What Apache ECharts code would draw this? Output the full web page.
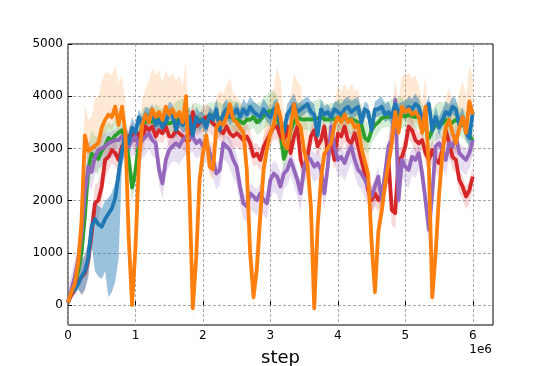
<!DOCTYPE html>
<html>
<head>
<meta charset="utf-8">
<script src="https://cdn.jsdelivr.net/npm/echarts@6/dist/echarts.min.js"></script>
<style>
  html, body { margin: 0; padding: 0; background: #fff; }
  #main { width: 548px; height: 366px; }
</style>
</head>
<body>
<div id="main"></div>
<script>
// step values, one every 50k steps from 0 to 6e6
const orange = [50,250,400,800,1600,3250,2950,3000,3050,3100,3400,3550,3650,3600,3800,3450,3800,3300,1300,0,
  1100,2700,3450,3650,3500,3750,3600,3700,3550,3800,3650,3750,3600,3700,3500,4000,2200,-60,900,2400,
  2900,3250,2650,2600,3400,3500,3450,3600,3850,3550,3500,3400,3300,2600,1000,150,700,1700,2600,3000,
  3300,3450,3850,3600,3100,3000,3400,3850,3500,3400,2950,2700,1900,-60,1500,2400,2900,3000,3100,3450,
  3600,3500,3650,3500,3550,3400,3450,3000,2750,2500,1200,250,1400,1800,2300,2700,3100,3700,3300,3800,
  3700,3750,3650,3700,3600,3300,3800,2600,150,1000,2100,2900,3400,3550,3300,3100,3400,3600,3300,3900,3650];
const green = [50,250,400,650,1000,1700,2600,2900,2850,2800,2950,3050,3200,3150,3250,3300,3350,3150,2800,2250,
  2550,3100,3450,3500,3550,3500,3600,3550,3450,3500,3480,3500,3550,3580,3600,3550,3450,3550,3580,3550,
  3550,3560,3650,3620,3600,3580,3550,3600,3610,3560,3550,3520,3480,3550,3550,3600,3500,3550,3620,3680,
  3720,3700,3620,3300,2800,3000,3350,3500,3600,3560,3550,3560,3550,3560,3580,3610,3560,3550,3570,3560,
  3580,3600,3570,3550,3560,3540,3500,3450,3200,3150,3350,3450,3500,3580,3600,3610,3600,3620,3640,3630,
  3610,3640,3620,3600,3620,3500,3400,3200,3350,3450,3500,3480,3550,3450,3500,3550,3500,3450,3400,3250,3150];
const red = [50,200,300,450,540,610,860,1370,1950,2010,2270,2780,2840,2970,2910,2780,3040,2970,3230,3290,
  3160,3290,3160,3420,3350,3420,3230,3350,3290,3420,3230,3230,3350,3290,3230,3160,3160,3700,3420,3480,
  3550,3600,3550,3480,3420,3350,3290,3420,3290,3230,3290,3230,3160,3230,3100,2850,2900,2780,3030,3160,
  3290,3420,3420,3230,3160,3420,2910,3230,3420,2780,2590,2840,3230,3350,3040,3160,3420,2910,3100,2780,
  3290,3230,3420,3160,3100,3290,3040,2780,2520,2200,2010,2140,2010,2140,2270,2780,1820,1760,2780,2840,
  3040,3420,3350,3160,3100,3160,2910,2780,2970,2780,2720,2970,3350,3100,2840,2780,2400,2270,2080,2200,2460];
const purple = [50,290,540,860,1370,2140,2650,2550,2840,2970,3000,3040,3100,3130,3160,3160,3230,3160,3040,3160,
  3230,3040,3160,3230,3290,3160,3100,2590,2330,2780,2970,3040,3100,3040,3160,3230,3200,3230,3100,3160,
  3040,3100,2910,2780,2520,2590,3100,3040,2970,2780,2650,2270,1950,1890,2140,2080,2010,2140,2010,1950,
  2400,2520,2460,2270,2520,2590,2780,2590,2400,2140,2650,2840,2780,2650,2720,2590,2140,2650,3420,3040,
  2780,2840,2720,2910,3040,2780,2590,2520,2400,2270,2080,2270,2460,2010,2520,3040,3160,3930,2010,2780,
  2650,2590,2840,2780,2910,2520,2010,1440,2140,3040,3100,2970,2780,3100,3040,3230,2910,2840,2780,2910,3160];
const blue = [50,250,300,400,550,650,900,1500,1650,1550,1500,1650,1750,1850,2050,2500,2950,3250,3100,3400,
  3300,3600,3450,3650,3600,3700,3450,3550,3400,3500,3700,3650,3350,3550,3450,3500,3600,3250,3600,3500,
  3550,3400,3650,3550,3750,3350,3650,3750,3600,3650,3750,3600,3750,3650,3800,3700,3650,3600,3750,3650,
  3600,3750,3800,3450,3300,3650,3750,3850,3700,3750,3800,3850,3700,3650,3250,3750,3650,3700,3600,3750,
  3700,3650,3750,3800,3700,3750,3800,3500,3750,3700,3350,3750,3750,3800,3650,3700,3600,3850,3700,3750,
  3700,3800,3750,3850,3800,3550,3700,3850,3350,3600,3400,3550,3700,3650,3800,3750,3450,3600,3300,3200,3700];

// band spread above / below the mean, one value per 200k steps
const orangeUp = [150,600,900,800,600,500,800,700,700,400,500,600,500,500,700,700,600,800,500,400,600,700,600,500,600,700,600,500,600,700,700];
const orangeDn = [100,300,300,250,150,200,200,200,150,200,200,250,200,150,250,200,200,200,150,200,200,200,150,200,200,200,150,200,200,200,200];
const greenUp = [150,450,400,300,300,300,250,300,350,300,250,300,350,300,350,400,350,300,350,300,350,400,350,300,350,300,350,400,350,300,350];
const greenDn = [100,350,300,250,300,200,200,200,200,250,200,200,250,200,250,300,250,200,250,200,250,300,250,200,250,200,250,300,250,250,250];
const redUp = [100,350,350,250,200,200,200,250,200,200,250,200,200,250,200,200,250,200,200,250,200,200,250,200,200,250,200,200,250,200,200];
const redDn = [100,350,350,250,200,250,200,200,250,200,250,200,250,200,200,250,200,250,200,200,300,250,250,200,300,250,200,250,250,250,250];
const purpleUp = [300,500,250,200,200,200,250,200,200,250,200,200,250,200,200,250,200,200,250,200,200,250,200,200,250,200,200,250,200,200,200];
const purpleDn = [100,350,350,300,300,350,300,300,350,300,350,300,350,300,300,350,300,350,300,300,350,300,350,300,300,350,300,350,300,300,300];
const blueUp = [100,300,350,300,200,150,150,200,150,200,150,200,150,200,200,150,200,150,200,150,200,200,150,200,150,200,150,200,200,200,200];
const blueDn = [100,350,1000,1600,300,150,150,150,150,150,150,150,150,150,150,150,150,150,150,150,150,150,150,150,150,150,150,150,150,150,150];

const xTicks = [0, 1000000, 2000000, 3000000, 4000000, 5000000, 6000000];
const yTicks = [0, 1000, 2000, 3000, 4000, 5000];

const steps = orange.map((_, i) => i * 50000);
const font = 'DejaVu Sans';

function band(mean, up, dn, fill) {
  return {
    type: 'custom',
    clip: true,
    silent: true,
    z: 1,
    data: [[0, 0]],
    renderItem: function (params, api) {
      let top = [], bottom = [];
      mean.forEach((v, i) => {
        let k = Math.floor(i / 4);
        top.push(api.coord([steps[i], v + up[k]]));
        bottom.unshift(api.coord([steps[i], v - dn[k]]));
      });
      return {
        type: 'polygon',
        shape: { points: top.concat(bottom) },
        style: { fill: fill }
      };
    }
  };
}

function line(mean, color) {
  return {
    type: 'line',
    z: 2,
    data: mean.map((v, i) => [steps[i], v]),
    showSymbol: false,
    lineStyle: { color: color, width: 3.8, join: 'round' },
    itemStyle: { color: color }
  };
}

let myChart = echarts.init(document.getElementById('main'));
myChart.setOption({
  animation: false,
  grid: {
    left: 68, top: 44, right: 55, bottom: 41,
    outerBoundsMode: 'none',
    show: true, borderColor: '#000', borderWidth: 1
  },
  xAxis: {
    type: 'value',
    min: 0,
    max: 6300000,
    name: 'step',
    nameLocation: 'middle',
    nameGap: 24,
    nameTextStyle: { fontSize: 18, color: '#000', fontFamily: font },
    axisLine: { show: false },
    axisTick: { show: true, inside: true, length: 4, customValues: xTicks, lineStyle: { color: '#000' } },
    axisLabel: { customValues: xTicks, formatter: v => String(v / 1000000), color: '#000', fontSize: 12, margin: 5, fontFamily: font },
    splitLine: { show: true, lineStyle: { color: '#a0a0a0', width: 0.9, type: [3, 2] } }
  },
  yAxis: {
    type: 'value',
    min: -380,
    max: 5000,
    axisLine: { show: false },
    axisTick: { show: true, inside: true, length: 4, customValues: yTicks, lineStyle: { color: '#000' } },
    axisLabel: { customValues: yTicks, formatter: v => String(v), color: '#000', fontSize: 12, margin: 5, fontFamily: font },
    splitLine: { show: true, lineStyle: { color: '#a0a0a0', width: 0.9, type: [3, 2] } }
  },
  graphic: [{
    type: 'text', right: 56, top: 344,
    style: { text: '1e6', fontSize: 12, fill: '#000', fontFamily: font }
  }],
  series: [
    band(orange, orangeUp, orangeDn, 'rgba(255,127,14,0.18)'),
    band(green, greenUp, greenDn, 'rgba(44,160,44,0.2)'),
    band(red, redUp, redDn, 'rgba(214,39,40,0.18)'),
    band(purple, purpleUp, purpleDn, 'rgba(148,103,189,0.22)'),
    band(blue, blueUp, blueDn, 'rgba(31,119,180,0.45)'),
    line(green, '#2ca02c'),
    line(red, '#d62728'),
    line(purple, '#9467bd'),
    line(blue, '#1f77b4'),
    line(orange, '#ff7f0e')
  ]
});
window.addEventListener('resize', () => myChart.resize());
</script>
</body>
</html>
